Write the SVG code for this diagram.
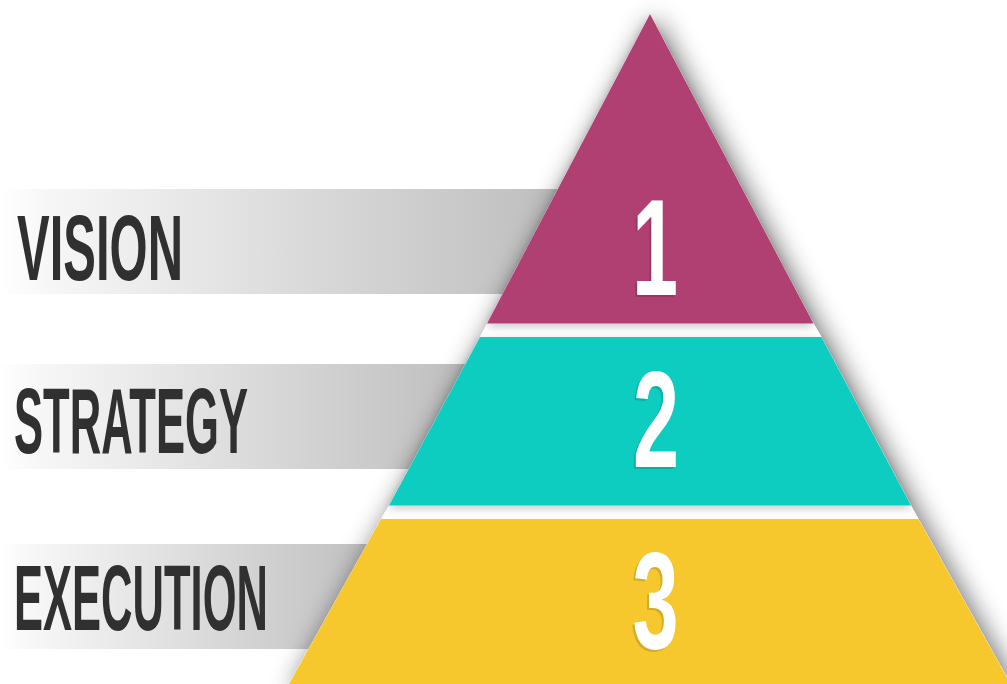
<svg xmlns="http://www.w3.org/2000/svg" width="1007" height="684" viewBox="0 0 1007 684">
  <defs>
    <linearGradient id="barGrad" x1="0" y1="0" x2="1" y2="0">
      <stop offset="0" stop-color="#ffffff"/>
      <stop offset="0.08" stop-color="#f7f7f7"/>
      <stop offset="0.35" stop-color="#e6e6e6"/>
      <stop offset="0.65" stop-color="#d2d2d2"/>
      <stop offset="1" stop-color="#bdbdbd"/>
    </linearGradient>
    <filter id="bigShadow" x="-20%" y="-20%" width="140%" height="140%">
      <feGaussianBlur in="SourceAlpha" stdDeviation="13"/>
      <feOffset dx="5" dy="2" result="b"/>
      <feComponentTransfer><feFuncA type="linear" slope="0.55"/></feComponentTransfer>
      <feMerge><feMergeNode/><feMergeNode in="SourceGraphic"/></feMerge>
    </filter>
    <filter id="bandShadow" x="-10%" y="-10%" width="120%" height="130%">
      <feGaussianBlur in="SourceAlpha" stdDeviation="4"/>
      <feOffset dx="0" dy="3"/>
      <feComponentTransfer><feFuncA type="linear" slope="0.22"/></feComponentTransfer>
      <feMerge><feMergeNode/><feMergeNode in="SourceGraphic"/></feMerge>
    </filter>
    <style>
      .label { font-family: "Liberation Sans", Arial, sans-serif; font-weight: bold; font-size: 93px; fill: #303030; }
      .num { font-family: "Liberation Sans", Arial, sans-serif; font-weight: bold; font-size: 138px; text-anchor: middle; }
      .numFill { fill: #ffffff; }
      .numShadow { fill: #000000; fill-opacity: 0.14; }
    </style>
  </defs>

  <rect x="0" y="0" width="1007" height="684" fill="#ffffff"/>

  <g id="bars">
    <rect x="0" y="189" width="570" height="105" fill="url(#barGrad)"/>
    <rect x="0" y="364" width="480" height="105" fill="url(#barGrad)"/>
    <rect x="0" y="544" width="390" height="105" fill="url(#barGrad)"/>
  </g>

  <g id="pyramid-base" filter="url(#bigShadow)">
    <polygon points="650,14 813.5,323.5 821.5,337 911,505.5 918.5,519 1014,690 285.7,690 381,519 389,505.5 480,337 487,323.5" fill="#ffffff"/>
  </g>

  <g id="level-1">
    <polygon points="650,14 813.5,323.5 487,323.5" fill="#B04072" filter="url(#bandShadow)"/>
    <text class="num numShadow" transform="translate(653,297) scale(0.6,1)">1</text>
    <text class="num numFill" transform="translate(655,295) scale(0.6,1)">1</text>
  </g>

  <g id="level-2">
    <polygon points="480,337 821.5,337 911,505.5 389,505.5" fill="#0FCCC0" filter="url(#bandShadow)"/>
    <text class="num numShadow" transform="translate(654,469) scale(0.6,1)">2</text>
    <text class="num numFill" transform="translate(656,467) scale(0.6,1)">2</text>
  </g>

  <g id="level-3">
    <polygon points="381,519 918.5,519 1014,690 285.7,690" fill="#F7C72E"/>
    <text class="num numShadow" transform="translate(653.5,650) scale(0.6,1)">3</text>
    <text class="num numFill" transform="translate(655.5,648) scale(0.6,1)">3</text>
  </g>

  <g id="label-vision">
    <text class="label" x="17" y="280" textLength="166" lengthAdjust="spacingAndGlyphs">VISION</text>
  </g>
  <g id="label-strategy">
    <text class="label" x="14" y="453" textLength="234" lengthAdjust="spacingAndGlyphs">STRATEGY</text>
  </g>
  <g id="label-execution">
    <text class="label" x="14" y="630" textLength="254" lengthAdjust="spacingAndGlyphs">EXECUTION</text>
  </g>

  <g id="connectors"></g>
</svg>
